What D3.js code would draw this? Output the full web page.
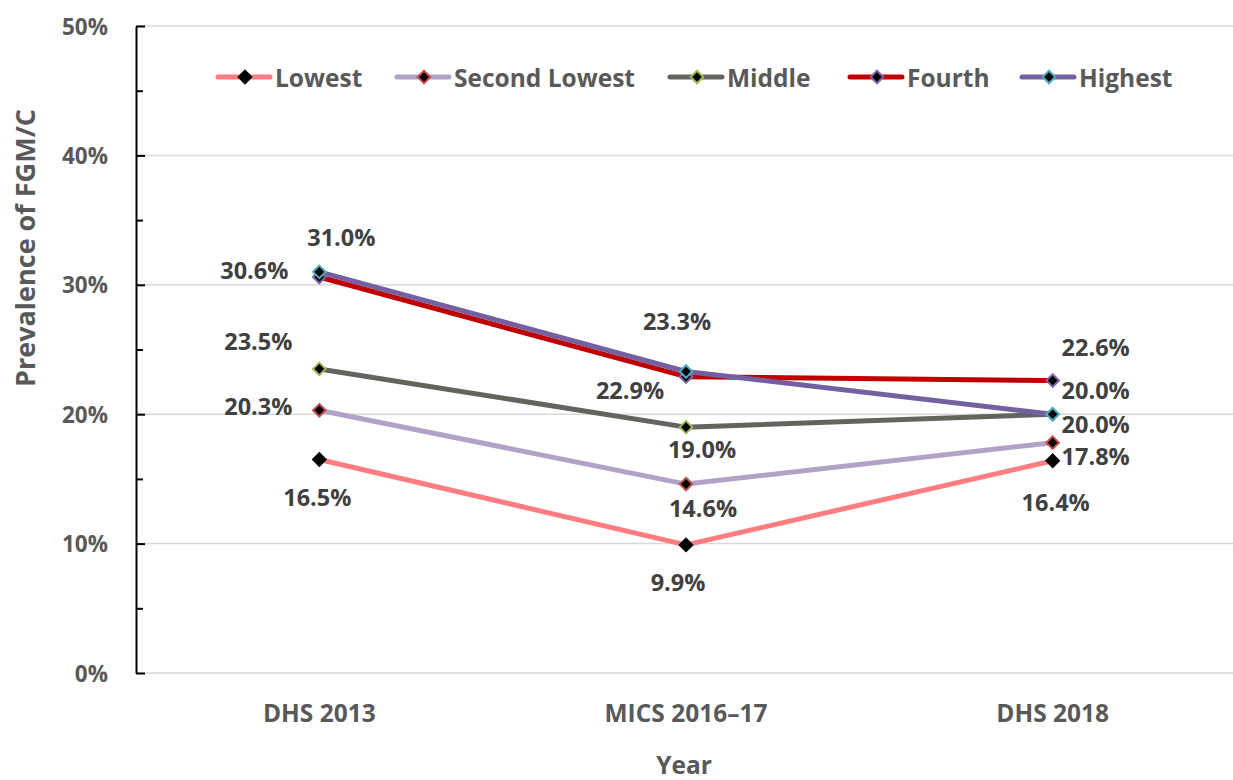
<!DOCTYPE html>
<html>
<head>
<meta charset="utf-8">
<script src="https://cdn.jsdelivr.net/npm/d3@7"></script>
<style>
  body { margin: 0; background: #fff; }
  svg { display: block; font-family: "Open Sans", Lato, sans-serif; }
</style>
</head>
<body>
<svg id="chart" width="1233" height="780"></svg>
<script>
// ---- data ----
const categories = ["DHS 2013", "MICS 2016\u201317", "DHS 2018"];
const seriesNames = ["Lowest", "Second Lowest", "Middle", "Fourth", "Highest"];
const lowest = [16.5, 9.9, 16.4];
const secondLowest = [20.3, 14.6, 17.8];
const middle = [23.5, 19.0, 20.0];
const fourth = [30.6, 22.9, 22.6];
const highest = [31.0, 23.3, 20.0];
const yTicks = [0, 10, 20, 30, 40, 50];
const yTitle = "Prevalence of FGM/C";
const xTitle = "Year";

// ---- styles ----
const lineColors = ["#FF7C80", "#B3A2C7", "#62645D", "#C00000", "#7460A0"];
const markerStrokes = ["#000000", "#C0504D", "#9BBB59", "#8064A2", "#4BACC6"];
// label offsets (dx, dy) relative to marker, per series per point
const labelOffsets = [
  [[-2, 38], [-8, 37], [3, 41]],
  [[-61, -4], [17, 24], [43, 13]],
  [[-61, -28], [16, 22], [43, 10]],
  [[-65, -7], [-56, 13], [43, -34]],
  [[22, -35], [-9, -50], [43, -24]]
];
const legendX = [216, 395, 668, 848, 1020];

const seriesValues = [lowest, secondLowest, middle, fourth, highest];

const svg = d3.select("#chart");
const mLeft = 136, mRight = 1236, mTop = 26, mBottom = 673;

const x = d3.scaleBand().domain(categories).range([mLeft, mRight]);
const y = d3.scaleLinear().domain([0, 50]).range([mBottom, mTop]);
const cx = c => x(c) + x.bandwidth() / 2;

// gridlines
svg.append("g").selectAll("line").data(yTicks).join("line")
  .attr("x1", mLeft).attr("x2", mRight)
  .attr("y1", d => y(d)).attr("y2", d => y(d))
  .attr("stroke", "#D9D9D9").attr("stroke-width", 1.5);

// y axis (ticks inward)
const yAxis = d3.axisRight(y).tickValues(d3.range(0, 51, 5)).tickSize(0).tickFormat("");
const yg = svg.append("g").attr("transform", `translate(${mLeft},0)`).call(yAxis);
yg.select(".domain").attr("stroke", "#000").attr("stroke-width", 2);
yg.selectAll(".tick line").remove();
yg.selectAll(".tick").append("line")
  .attr("x1", 0).attr("x2", d => d % 10 === 0 ? 9 : 7)
  .attr("stroke", "#000").attr("stroke-width", 2);

// y tick labels
svg.append("g").selectAll("text").data(yTicks).join("text")
  .attr("x", 108).attr("y", d => y(d))
  .attr("text-anchor", "end").attr("dominant-baseline", "central")
  .attr("font-size", 22.5).attr("font-weight", "bold").attr("fill", "#595959")
  .text(d => d + "%");

// x tick labels
const xAxis = d3.axisBottom(x).tickSize(0);
const xg = svg.append("g").attr("transform", `translate(0,${mBottom})`).call(xAxis);
xg.select(".domain").remove();
xg.selectAll(".tick text")
  .attr("y", 39).attr("dy", "0")
  .attr("dominant-baseline", "central")
  .attr("font-size", 24.5).attr("font-weight", "bold").attr("fill", "#595959")
  .attr("font-family", "'Open Sans', sans-serif");

// titles
svg.append("text")
  .attr("transform", `translate(24,248) rotate(-90)`)
  .attr("text-anchor", "middle").attr("dominant-baseline", "central")
  .attr("font-size", 27).attr("font-weight", "bold").attr("fill", "#595959")
  .text(yTitle);
svg.append("text")
  .attr("x", 684).attr("y", 764)
  .attr("text-anchor", "middle").attr("dominant-baseline", "central")
  .attr("font-size", 24.5).attr("font-weight", "bold").attr("fill", "#595959")
  .text(xTitle);

const line = d3.line().x((d, i) => cx(categories[i])).y(d => y(d));
const diamond = d3.symbol().type(d3.symbolDiamond2).size(100);

// lines
seriesValues.forEach((vals, s) => {
  svg.append("path").datum(vals)
    .attr("d", line)
    .attr("fill", "none")
    .attr("stroke", lineColors[s]).attr("stroke-width", 5)
    .attr("stroke-linejoin", "round");
});
// markers
seriesValues.forEach((vals, s) => {
  svg.append("g").selectAll("path").data(vals).join("path")
    .attr("transform", (d, i) => `translate(${cx(categories[i])},${y(d)})`)
    .attr("d", diamond)
    .attr("fill", "#000").attr("stroke", markerStrokes[s]).attr("stroke-width", 2);
});
// labels
seriesValues.forEach((vals, s) => {
  svg.append("g").selectAll("text").data(vals).join("text")
    .attr("x", (d, i) => cx(categories[i]) + labelOffsets[s][i][0])
    .attr("y", (d, i) => y(d) + labelOffsets[s][i][1])
    .attr("text-anchor", "middle").attr("dominant-baseline", "central")
    .attr("font-size", 23.5).attr("font-weight", "bold").attr("fill", "#404040")
    .text(d => d.toFixed(1) + "%");
});

// legend
const lg = svg.append("g");
seriesNames.forEach((name, s) => {
  const g = lg.append("g").attr("transform", `translate(${legendX[s]},77)`);
  g.append("line").attr("x1", 2).attr("x2", 54).attr("y1", 0).attr("y2", 0)
    .attr("stroke", lineColors[s]).attr("stroke-width", 5).attr("stroke-linecap", "round");
  g.append("path").attr("transform", "translate(29,0)").attr("d", diamond)
    .attr("fill", "#000").attr("stroke", markerStrokes[s]).attr("stroke-width", 2);
  g.append("text").attr("x", 59).attr("y", 0)
    .attr("dominant-baseline", "central")
    .attr("font-size", 24.5).attr("font-weight", "bold").attr("fill", "#595959")
    .text(name);
});
</script>
</body>
</html>
